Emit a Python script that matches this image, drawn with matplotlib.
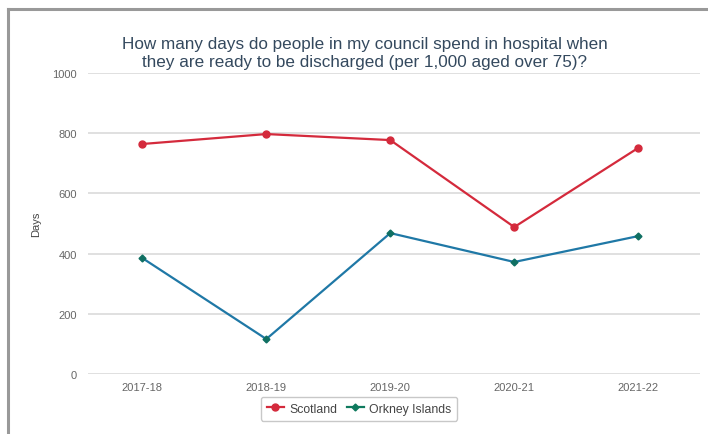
import matplotlib
import matplotlib.pyplot as plt
from matplotlib.lines import Line2D

matplotlib.use('Agg')

years = ["2017-18", "2018-19", "2019-20", "2020-21", "2021-22"]
scotland = [764, 797, 777, 488, 751]
orkney = [385, 116, 468, 372, 458]

plt.rcParams['font.family'] = ['Liberation Sans', 'DejaVu Sans']

fig = plt.figure(figsize=(7.08, 4.35), dpi=100)
ax = fig.add_axes([0.124, 0.138, 0.865, 0.692])

x = range(len(years))
ax.plot(x, scotland, color='#d42a3c', lw=1.6, marker='o', ms=5,
        label='Scotland')
ax.plot(x, orkney, color='#1f78a6', lw=1.6, marker='D', ms=3.5,
        mfc='#0f6f62', mec='#0f6f62', label='Orkney Islands')

ax.set_xlim(-0.44, 4.5)
ax.set_ylim(0, 1000)
ax.set_yticks([0, 200, 400, 600, 800, 1000])
ax.set_xticks(list(x))
ax.set_xticklabels(years)
ax.tick_params(length=0, labelsize=8, labelcolor='#666666', pad=6)
ax.tick_params(axis='y', pad=8)
ax.grid(axis='y', color='#dddddd', lw=1.3)
ax.set_axisbelow(True)
for s in ax.spines.values():
    s.set_visible(False)
ax.set_ylabel("Days", fontsize=8, color='#444444', labelpad=8)

fig.text(0.515, 0.878, "How many days do people in my council spend in hospital when\n"
         "they are ready to be discharged (per 1,000 aged over 75)?",
         ha='center', va='center', fontsize=12.3, color='#34495e',
         linespacing=1.25)

leg_handles = [
    Line2D([], [], color='#d42a3c', marker='o', ms=5, lw=1.6),
    Line2D([], [], color='#0f7a5e', marker='D', ms=3.5, lw=1.6),
]
fig.legend(leg_handles, ['Scotland', 'Orkney Islands'], loc='center',
           bbox_to_anchor=(0.507, 0.058), ncol=2, fontsize=8.8,
           frameon=True, edgecolor='#bbbbbb', fancybox=True,
           handlelength=1.4, handletextpad=0.4, columnspacing=0.8,
           borderpad=0.5, labelcolor='#444444')

# screenshot frame on left and top
fig.add_artist(Line2D([8 / 708, 8 / 708], [0, 1 - 10 / 435], color='#999999', lw=2.2))
fig.add_artist(Line2D([8 / 708, 1], [1 - 10 / 435, 1 - 10 / 435], color='#999999', lw=2.2))

fig.savefig("out.png", dpi=100)
